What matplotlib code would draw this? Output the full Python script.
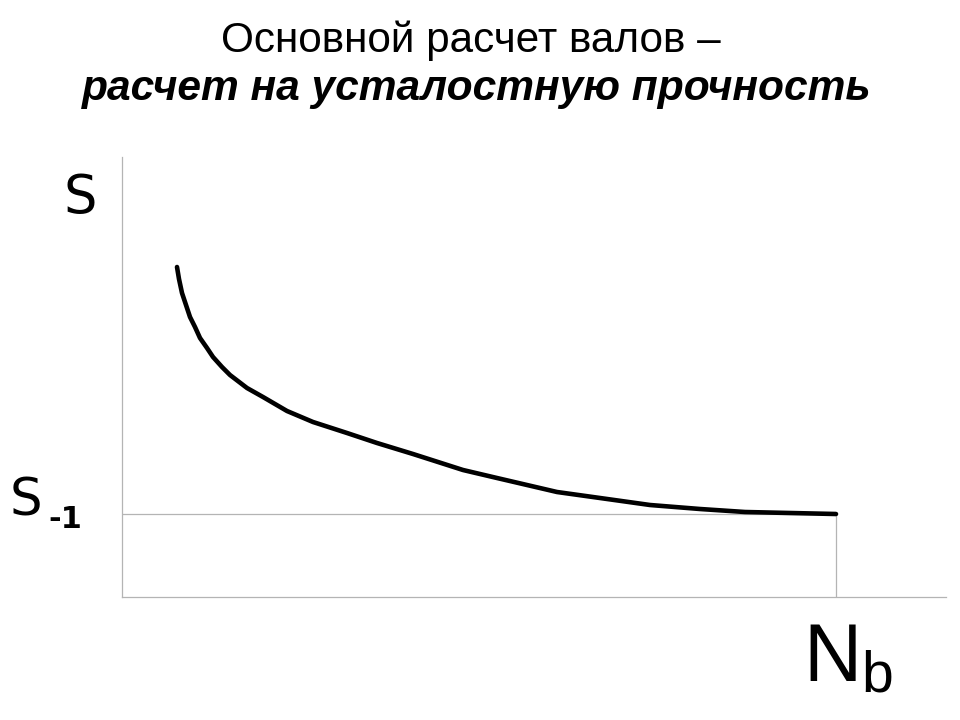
import matplotlib
matplotlib.use("Agg")
import matplotlib.pyplot as plt

# fatigue curve (arbitrary units)
cycles = [55, 57, 60, 64, 68, 73, 78, 85, 91, 100, 108, 125, 141, 165, 191, 225,
          255, 291, 341, 375, 435, 478, 528, 578, 623, 668, 714]
stress = [330, 318, 304, 292, 280, 270, 259, 249, 240, 230, 222, 209, 200, 186, 175, 164,
          154, 143, 127, 119, 105, 99, 92, 88, 85, 84, 83]
s_limit = 83
n_base = 714

title_1 = "Основной расчет валов –"
title_2 = "расчет на усталостную прочность"

W, H = 960, 720
fig = plt.figure(figsize=(W / 100, H / 100), dpi=100)
ax = fig.add_axes([122 / W, 123 / H, 824 / W, 440 / H])
ax.set_xlim(0, 824)
ax.set_ylim(0, 440)

grey = "#b4b4b4"
for side in ("top", "right"):
    ax.spines[side].set_visible(False)
for side in ("left", "bottom"):
    ax.spines[side].set_color(grey)
    ax.spines[side].set_linewidth(0.9)
ax.set_xticks([])
ax.set_yticks([])

ax.plot([0, n_base], [s_limit, s_limit], color=grey, lw=0.9)
ax.plot([n_base, n_base], [0, s_limit], color=grey, lw=0.9)
ax.plot(cycles, stress, color="black", lw=3.3, solid_capstyle="round", solid_joinstyle="round")


def px(x, y):
    return x / W, 1 - y / H


arial = ["Liberation Sans", "DejaVu Sans"]
fig.text(*px(471, 52), title_1, ha="center", va="baseline", fontsize=30.4, family=arial)
fig.text(*px(477, 100), title_2, ha="center", va="baseline", fontsize=30.6,
         family=arial, weight="bold", style="italic")

fig.text(*px(80, 213), "S", ha="center", va="baseline", fontsize=38, family="DejaVu Sans")
fig.text(*px(26, 515), "S", ha="center", va="baseline", fontsize=37, family="DejaVu Sans")
fig.text(*px(65, 528), "-1", ha="center", va="baseline", fontsize=22,
         family="DejaVu Sans", weight="bold")
fig.text(*px(833, 681), "N", ha="center", va="baseline", fontsize=58, family="Liberation Sans")
fig.text(*px(877, 691), "b", ha="center", va="baseline", fontsize=41, family="Liberation Sans")

fig.savefig("out.png", dpi=100)
